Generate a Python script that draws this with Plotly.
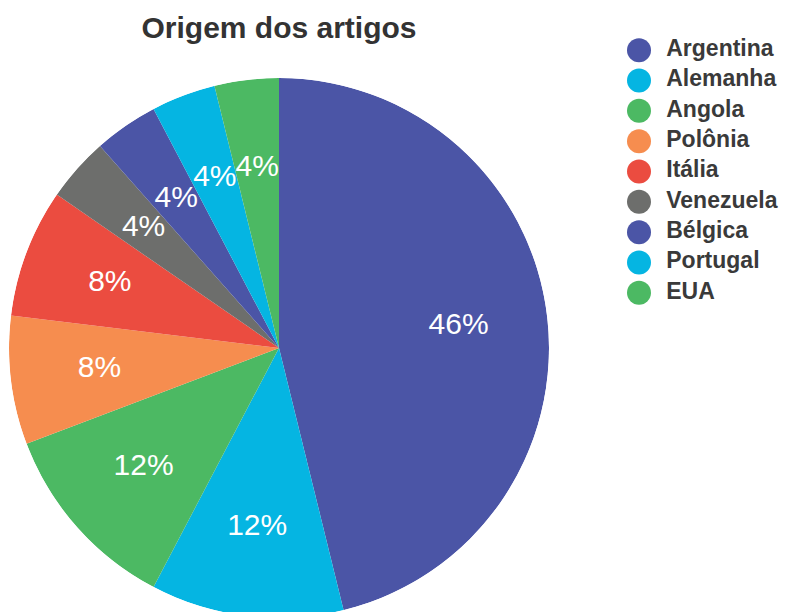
import plotly.graph_objects as go

paises = ["Argentina", "Alemanha", "Angola", "Polônia", "Itália",
          "Venezuela", "Bélgica", "Portugal", "EUA"]
artigos = [12, 3, 3, 2, 2, 1, 1, 1, 1]
cores = ["#4b55a6", "#05b5e2", "#4cb963", "#f68d4f", "#eb4c40",
         "#6d6e6c", "#4b55a6", "#05b5e2", "#4cb963"]

W, H = 788, 612
# a página do plotly tem margem de 8px no body: coordenadas abaixo já descontadas
total = sum(artigos)
graus = [v / total * 360 for v in artigos]
meio, acc = [], 0
for g in graus:
    meio.append(acc + g / 2)
    acc += g
rotulos = [f"{round(v / total * 100)}%" for v in artigos]

fig = go.Figure()
# fatias da pizza
fig.add_trace(go.Barpolar(
    r=[1] * len(artigos), theta=meio, width=graus,
    marker=dict(color=cores, line=dict(width=0)),
    customdata=artigos, text=paises,
    hovertemplate="%{text}: %{customdata}<extra></extra>",
    showlegend=False,
))
# porcentagens
fig.add_trace(go.Scatterpolar(
    r=[0.67] * len(artigos), theta=meio, mode="text", text=rotulos,
    textfont=dict(color="white", size=30, family="Liberation Sans, Arial"),
    hoverinfo="skip", showlegend=False,
))
# legenda com círculos
fig.add_trace(go.Scatter(
    x=[0] * len(paises), y=paises, mode="markers",
    marker=dict(symbol="circle", size=24, color=cores),
    hoverinfo="skip", showlegend=False, cliponaxis=False,
))
fig.add_trace(go.Scatter(
    x=[0] * len(paises), y=paises, mode="markers+text",
    marker=dict(size=42, color="rgba(0,0,0,0)"),
    text=paises, textposition="middle right",
    textfont=dict(size=23, color="#3a3a3a", family="Liberation Sans, Arial", weight="bold"),
    hoverinfo="skip", showlegend=False, cliponaxis=False,
))

fig.update_layout(
    width=W, height=H, margin=dict(l=0, r=0, t=0, b=0),
    paper_bgcolor="white", plot_bgcolor="rgba(0,0,0,0)",
    showlegend=False,
    title=dict(text="Origem dos artigos", x=271 / W, xanchor="center",
               y=1 - 19 / H, yanchor="middle",
               font=dict(size=30, color="#333333", family="Liberation Sans, Arial", weight="bold")),
    polar=dict(
        domain=dict(x=[1 / W, 541 / W], y=[2 / H, 542 / H]),
        bgcolor="rgba(0,0,0,0)", bargap=0,
        radialaxis=dict(visible=False, range=[0, 1]),
        angularaxis=dict(visible=False, rotation=90, direction="clockwise"),
    ),
    xaxis=dict(visible=False, domain=[631 / W, 1], range=[0, 1], fixedrange=True),
    yaxis=dict(visible=False, domain=[1 - 300 / H, 1 - 27 / H],
               type="category", range=[8.5, -0.5], fixedrange=True),
)

fig.write_html("out.html")
